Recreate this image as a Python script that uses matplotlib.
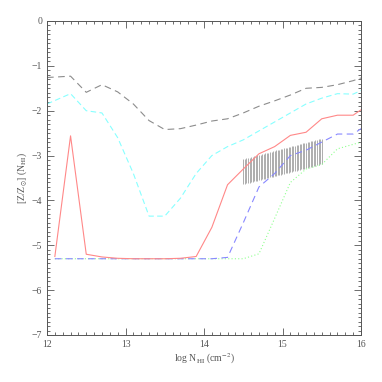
import numpy as np
import matplotlib
matplotlib.use("Agg")
import matplotlib.pyplot as plt
from matplotlib.ticker import MultipleLocator

plt.rcParams['font.family'] = ['Liberation Serif', 'DejaVu Serif']
plt.rcParams['mathtext.fontset'] = 'stix'

x_gray = [12.0, 12.3, 12.5, 12.7, 12.9, 13.1, 13.3, 13.5, 13.7, 13.9, 14.1, 14.3, 14.5, 14.7, 14.9, 15.1, 15.3, 15.5, 15.7, 15.9, 16.0]
y_gray = [-1.26, -1.23, -1.59, -1.42, -1.58, -1.85, -2.22, -2.42, -2.40, -2.32, -2.23, -2.18, -2.05, -1.90, -1.78, -1.65, -1.50, -1.48, -1.42, -1.33, -1.27]

x_cyan = [12.0, 12.3, 12.5, 12.7, 12.9, 13.1, 13.3, 13.5, 13.7, 13.9, 14.1, 14.3, 14.5, 14.7, 14.9, 15.1, 15.3, 15.5, 15.7, 15.9, 16.0]
y_cyan = [-1.85, -1.62, -2.00, -2.05, -2.60, -3.40, -4.35, -4.35, -3.95, -3.40, -3.00, -2.80, -2.65, -2.45, -2.25, -2.05, -1.85, -1.72, -1.62, -1.63, -1.55]

x_red = [12.1, 12.3, 12.5, 12.7, 12.9, 13.1, 13.3, 13.5, 13.7, 13.9, 14.1, 14.3, 14.5, 14.7, 14.9, 15.1, 15.3, 15.5, 15.7, 15.9, 16.0]
y_red = [-5.25, -2.56, -5.20, -5.26, -5.29, -5.30, -5.30, -5.30, -5.29, -5.25, -4.60, -3.65, -3.30, -2.96, -2.80, -2.55, -2.48, -2.18, -2.10, -2.10, -1.98]

x_blue = [12.1, 12.5, 12.9, 13.3, 13.7, 14.1, 14.3, 14.5, 14.7, 14.9, 15.1, 15.3, 15.5, 15.7, 15.9, 16.0]
y_blue = [-5.30, -5.30, -5.30, -5.30, -5.30, -5.30, -5.27, -4.50, -3.70, -3.40, -3.00, -2.88, -2.70, -2.52, -2.52, -2.40]

x_green = [12.1, 12.5, 12.9, 13.3, 13.7, 14.1, 14.3, 14.5, 14.7, 14.9, 15.1, 15.3, 15.5, 15.7, 15.9, 16.0]
y_green = [-5.30, -5.30, -5.30, -5.30, -5.30, -5.30, -5.30, -5.30, -5.19, -4.40, -3.60, -3.30, -3.20, -2.85, -2.75, -2.70]

band_x = [14.5, 15.5]
band_low = [-3.64, -3.19]
band_high = [-3.08, -2.62]

fig = plt.figure(figsize=(3.82, 3.82), dpi=100)
ax = fig.add_axes([47/382, 1 - 335/382, 314/382, 314/382])

xs = np.arange(14.5, 15.5001, 0.02)
lo = np.interp(xs, band_x, band_low)
hi = np.interp(xs, band_x, band_high)
ax.vlines(xs, lo, hi, color='#a0a0a0', lw=0.6)

ax.plot(x_green, y_green, color='#90ff90', lw=0.8, ls=(0, (1, 2)))
ax.plot(x_blue, y_blue, color='#8888ff', lw=0.8, ls=(0, (6, 4)))
ax.plot(x_red, y_red, color='#ff8888', lw=0.8, ls='-')
ax.plot(x_cyan, y_cyan, color='#88ffff', lw=0.8, ls=(0, (5, 3)))
ax.plot(x_gray, y_gray, color='#8c8c8c', lw=0.8, ls=(0, (6, 4)))

ax.set_xlim(12, 16)
ax.set_ylim(-7, 0)
ax.xaxis.set_major_locator(MultipleLocator(1))
ax.xaxis.set_minor_locator(MultipleLocator(0.1))
ax.yaxis.set_major_locator(MultipleLocator(1))
ax.yaxis.set_minor_locator(MultipleLocator(0.1))
ax.tick_params(which='both', direction='in', top=True, right=True, colors='#555555', labelsize=7, width=0.6)
ax.tick_params(which='major', length=5)
ax.tick_params(which='minor', length=2.5)
for s in ax.spines.values():
    s.set_color('#555555')
    s.set_linewidth(0.7)
ax.set_yticks([0, -1, -2, -3, -4, -5, -6, -7])
ax.set_yticklabels(['0', '\u22121', '\u22122', '\u22123', '\u22124', '\u22125', '\u22126', '\u22127'])
ax.set_xlabel(r'log N$_{\rm HI}$ (cm$^{-2}$)', fontsize=7, color='#555555', labelpad=2)
ax.set_ylabel(r'[Z/Z$_{\odot}$] (N$_{\rm HI}$)', fontsize=7, color='#555555', labelpad=2)

fig.savefig('out.png', dpi=100)
